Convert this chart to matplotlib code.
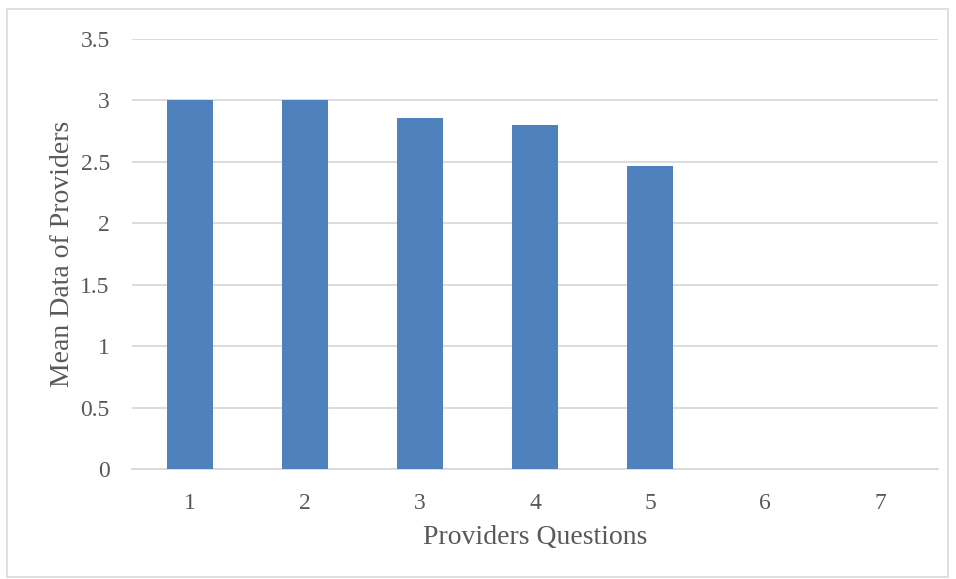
import matplotlib.pyplot as plt
from matplotlib.patches import FancyBboxPatch

# data
questions = ['1', '2', '3', '4', '5', '6', '7']
means = [3.0, 3.0, 2.86, 2.80, 2.47, 0, 0]
y_ticks = [0, 0.5, 1, 1.5, 2, 2.5, 3, 3.5]

plt.rcParams['font.family'] = ['Liberation Serif', 'DejaVu Serif']

fig = plt.figure(figsize=(9.56, 5.79), dpi=100)
ax = fig.add_axes([132 / 956, 1 - 469 / 579, 806 / 956, 430 / 579])

# outer chart frame
frame = FancyBboxPatch((7 / 956, 2 / 579), 941 / 956, 568 / 579,
                       boxstyle='square,pad=0', transform=fig.transFigure,
                       fill=False, edgecolor='#d9d9d9', linewidth=1.2)
fig.patches.append(frame)

x = list(range(len(questions)))
ax.bar(x, means, width=0.4, color='#4f81bd', zorder=3)

ax.set_xlim(-0.5, len(questions) - 0.5)
ax.set_ylim(0, 3.5)
ax.set_yticks(y_ticks)
ax.set_yticklabels(['0', '0.5', '1', '1.5', '2', '2.5', '3', '3.5'])
ax.set_xticks(x)
ax.set_xticklabels(questions)

ax.grid(axis='y', color='#d9d9d9', linewidth=1.3, zorder=0)
for s in ['top', 'right', 'left']:
    ax.spines[s].set_visible(False)
ax.spines['bottom'].set_color('#d9d9d9')
ax.spines['bottom'].set_linewidth(1.3)
ax.tick_params(axis='both', length=0, colors='#595959', labelsize=17)
ax.tick_params(axis='y', pad=16)
ax.tick_params(axis='x', pad=17)

ax.set_xlabel('Providers Questions', fontsize=20, color='#595959', labelpad=8)
ax.set_ylabel('Mean Data of Providers', fontsize=20, color='#595959', labelpad=4)

fig.savefig('out.png', dpi=100)
